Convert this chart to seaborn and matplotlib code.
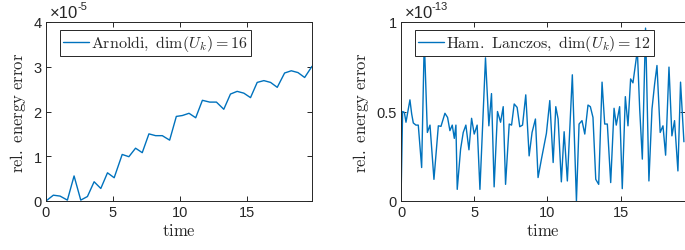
import matplotlib
matplotlib.use("Agg")
import matplotlib.pyplot as plt
import seaborn as sns
import pandas as pd

# left panel: Arnoldi, values in units of 1e-5
arnoldi_time = [0.0, 0.55, 1.05, 1.6, 2.1, 2.6, 3.1, 3.6, 4.1, 4.6, 5.1, 5.7, 6.2, 6.7,
                7.2, 7.7, 8.2, 8.7, 9.25, 9.75, 10.2, 10.7, 11.2, 11.7, 12.25, 12.75,
                13.3, 13.8, 14.3, 14.8, 15.3, 15.8, 16.3, 16.8, 17.3, 17.85, 18.35,
                18.85, 19.35, 19.9]
arnoldi_err = [0.0, 0.13, 0.11, 0.02, 0.56, 0.02, 0.10, 0.43, 0.28, 0.63, 0.52, 1.04,
               0.99, 1.18, 1.08, 1.50, 1.46, 1.46, 1.36, 1.89, 1.91, 1.96, 1.86, 2.25,
               2.21, 2.21, 2.05, 2.39, 2.45, 2.41, 2.31, 2.65, 2.69, 2.65, 2.54, 2.86,
               2.91, 2.87, 2.76, 3.01]
arnoldi_exp = "-5"
arnoldi_label = r"$\mathrm{Arnoldi,\ dim}(U_k) = 16$"

# right panel: Hamiltonian Lanczos, values in units of 1e-13
lanczos_time = [0.0, 0.11, 0.23, 0.34, 0.61, 0.73, 0.84, 1.02, 1.18, 1.41, 1.59, 1.80,
                1.98, 2.25, 2.55, 2.73, 3.00, 3.18, 3.34, 3.50, 3.64, 3.75, 3.84, 4.07,
                4.25, 4.43, 4.64, 4.82, 5.00, 5.20, 5.39, 5.77, 6.00, 6.18, 6.36, 6.59,
                6.80, 6.98, 7.14, 7.39, 7.55, 7.73, 7.93, 8.11, 8.30, 8.52, 8.75, 8.95,
                9.18, 9.36, 9.59, 9.93, 10.16, 10.39, 10.57, 10.73, 10.95, 11.14, 11.36,
                11.70, 11.98, 12.16, 12.36, 12.55, 12.77, 12.93, 13.11, 13.30, 13.50,
                13.73, 13.91, 14.09, 14.32, 14.55, 14.70, 14.93, 15.11, 15.32, 15.50,
                15.68, 15.84, 16.14, 16.30, 16.48, 16.70, 16.93, 17.14, 17.32, 17.48,
                17.70, 17.89, 18.07, 18.30, 18.50, 18.68, 18.91, 19.09, 19.32]
lanczos_err = [0.0, 0.50, 0.495, 0.44, 0.565, 0.486, 0.436, 0.424, 0.424, 0.187, 0.9,
               0.383, 0.424, 0.121, 0.42, 0.417, 0.49, 0.467, 0.393, 0.424, 0.35, 0.424,
               0.065, 0.29, 0.383, 0.424, 0.286, 0.462, 0.374, 0.424, 0.065, 0.80, 0.42,
               0.60, 0.079, 0.50, 0.44, 0.527, 0.093, 0.43, 0.424, 0.542, 0.523, 0.415,
               0.424, 0.593, 0.252, 0.383, 0.458, 0.131, 0.234, 0.378, 0.561, 0.215,
               0.527, 0.458, 0.107, 0.387, 0.112, 0.705, 0.0, 0.43, 0.449, 0.374, 0.536,
               0.527, 0.467, 0.121, 0.093, 0.664, 0.43, 0.43, 0.103, 0.518, 0.424, 0.527,
               0.069, 0.583, 0.42, 0.682, 0.66, 0.841, 0.514, 0.234, 0.966, 0.112, 0.514,
               0.654, 0.757, 0.383, 0.42, 0.256, 0.748, 0.364, 0.449, 0.168, 0.664, 0.331]
lanczos_exp = "-13"
lanczos_label = r"$\mathrm{Ham.\ Lanczos,\ dim}(U_k) = 12$"

sns.set_style("ticks")
plt.rcParams["font.family"] = ["Liberation Sans", "DejaVu Sans"]
plt.rcParams["mathtext.fontset"] = "cm"

line_color = "#0072BD"
axis_color = "#262626"
W, H = 685, 251

fig = plt.figure(figsize=(W / 100, H / 100), dpi=100)
ax1 = fig.add_axes([46 / W, 49 / H, 266 / W, 179 / H])
ax2 = fig.add_axes([401 / W, 49 / H, 283.5 / W, 179 / H])

panels = [
    (ax1, arnoldi_time, arnoldi_err, arnoldi_label, arnoldi_exp, 19.9, [0, 1, 2, 3, 4], (0, 4), 266),
    (ax2, lanczos_time, lanczos_err, lanczos_label, lanczos_exp, 19.36, [0, 0.5, 1], (0, 1), 283.5),
]

for ax, t, err, label, exp, xmax, yticks, ylim, wpx in panels:
    df = pd.DataFrame({"time": t, "err": err})
    sns.lineplot(data=df, x="time", y="err", ax=ax, color=line_color, lw=1.0,
                 sort=False, estimator=None, label=label)
    ax.set_xlim(0, xmax)
    ax.set_ylim(*ylim)
    ax.set_xticks([0, 5, 10, 15])
    ax.set_yticks(yticks)
    ax.set_yticklabels([f"{v:g}" for v in yticks])
    ax.tick_params(direction="in", length=3.5, width=0.7, colors=axis_color,
                   labelsize=10.5, top=True, right=True, pad=3)
    for s in ax.spines.values():
        s.set_color(axis_color)
        s.set_linewidth(0.7)
    ax.set_xlabel(r"$\mathrm{time}$", fontsize=12, labelpad=2)
    ax.set_ylabel(r"$\mathrm{rel.\ energy\ error}$", fontsize=12, labelpad=4)
    leg = ax.legend(loc="upper left", bbox_to_anchor=(14 / wpx, 0.955), fontsize=11.5,
                    frameon=True, fancybox=False, borderpad=0.2, handlelength=1.6,
                    handletextpad=0.15, borderaxespad=0)
    leg.get_frame().set_edgecolor(axis_color)
    leg.get_frame().set_linewidth(0.7)
    leg.get_frame().set_alpha(1)
    ax.text(4 / wpx, 1.012, "\u00d710", transform=ax.transAxes, fontsize=12,
            color=axis_color, ha="left", va="bottom")
    ax.text(31 / wpx, 1.06, exp, transform=ax.transAxes, fontsize=8,
            color=axis_color, ha="left", va="bottom")

fig.savefig("out.png", dpi=100)
